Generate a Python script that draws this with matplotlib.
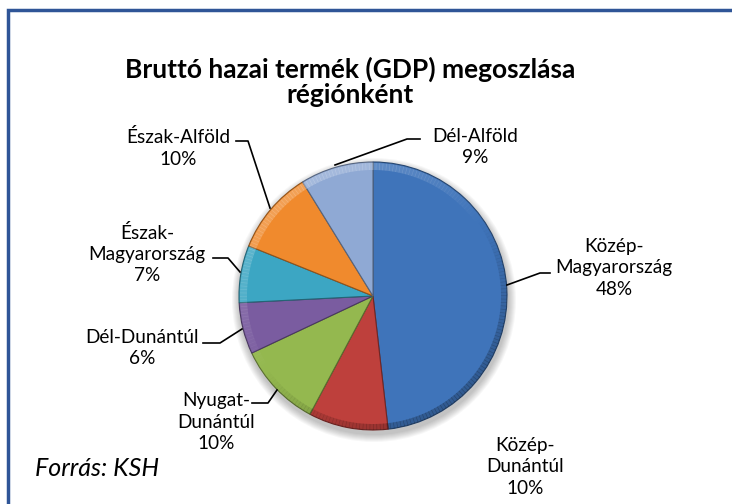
import numpy as np
import matplotlib
matplotlib.use("Agg")
import matplotlib.pyplot as plt
from matplotlib.patches import Wedge, Circle, Rectangle
from matplotlib.colors import to_rgb

plt.rcParams['font.family'] = ['Lato', 'DejaVu Sans']

# adatok (KSH), az óramutató járása szerint felülről
regiok = ['Közép-\nMagyarország', 'Közép-\nDunántúl', 'Nyugat-\nDunántúl', 'Dél-Dunántúl',
          'Észak-\nMagyarország', 'Észak-Alföld', 'Dél-Alföld']
ertekek = [48.2, 9.6, 10.2, 6.2, 6.9, 10.1, 8.8]
szazalek = ['48%', '10%', '10%', '6%', '7%', '10%', '9%']
szinek = ['#3F74BA', '#BE403C', '#94B84F', '#7A5CA0', '#3CA6C3', '#F08A2D', '#8FA9D4']

W, H = 732, 504
fig = plt.figure(figsize=(W / 100, H / 100), dpi=100)
ax = fig.add_axes([0, 0, 1, 1])

def Y(y):
    # képpont (felülről) -> tengely koordináta
    return H - y

# keret
ax.add_patch(Rectangle((8, -20), W + 20, Y(10) + 20, fill=False, ec='#2F5597', lw=2.5))

cx, cy, r = 373, Y(296), 134

# árnyék a kör alatt
for i in range(8):
    ax.add_patch(Circle((cx + 1, cy - 4), r + 1 + i, color='k', alpha=0.03, lw=0))
ax.add_patch(Circle((cx, cy), r, color='white', lw=0))

wedges, _ = ax.pie(ertekek, colors=szinek, startangle=90, counterclock=False,
                   center=(cx, cy), radius=r, frame=True,
                   wedgeprops=dict(lw=0.8))
for w, c in zip(wedges, szinek):
    w.set_edgecolor(tuple(np.array(to_rgb(c)) * 0.6))

# perem árnyalás (domború hatás)
n = 240
for k in range(n):
    a0 = 360 * k / n
    a1 = 360 * (k + 1) / n + 0.3
    m = np.deg2rad((a0 + a1) / 2)
    s = np.cos(m - np.deg2rad(125))
    if s > 0:
        ax.add_patch(Wedge((cx, cy), r - 1, a0, a1, width=7, color='white', alpha=0.2 * s, lw=0))
    else:
        ax.add_patch(Wedge((cx, cy), r, a0, a1, width=6, color='black', alpha=0.22 * -s, lw=0))

ax.set_xlim(0, W)
ax.set_ylim(0, H)
ax.set_aspect('equal')
ax.axis('off')

# cím
ax.text(350, Y(82), 'Bruttó hazai termék (GDP) megoszlása\nrégiónként', ha='center', va='center',
        fontsize=19, fontweight='bold', linespacing=1.05)

# címkék: középpont (x, y képpont) és vezetővonal
cimke_pos = [(614, 268), (525, 467), (216, 422), (142, 348), (147, 254), (178, 148), (475, 147)]
vonalak = [
    [(507, 285), (540, 273), (550, 273)],
    None,
    [(252, 403), (268, 403), (277, 390)],
    [(203, 343), (220, 343), (242, 329)],
    [(213, 258), (228, 258), (240, 272)],
    [(236, 141), (248, 141), (270, 208)],
    [(420, 139), (407, 139), (335, 165)],
]
for nev, sz, (x, y), v in zip(regiok, szazalek, cimke_pos, vonalak):
    ax.text(x, Y(y), nev + '\n' + sz, ha='center', va='center', fontsize=13.7, linespacing=1.3)
    if v:
        ax.plot([p[0] for p in v], [Y(p[1]) for p in v], color='k', lw=1.2)

ax.text(35, Y(468), 'Forrás: KSH', ha='left', va='center', fontsize=18, style='italic')

fig.savefig('out.png', dpi=100)
